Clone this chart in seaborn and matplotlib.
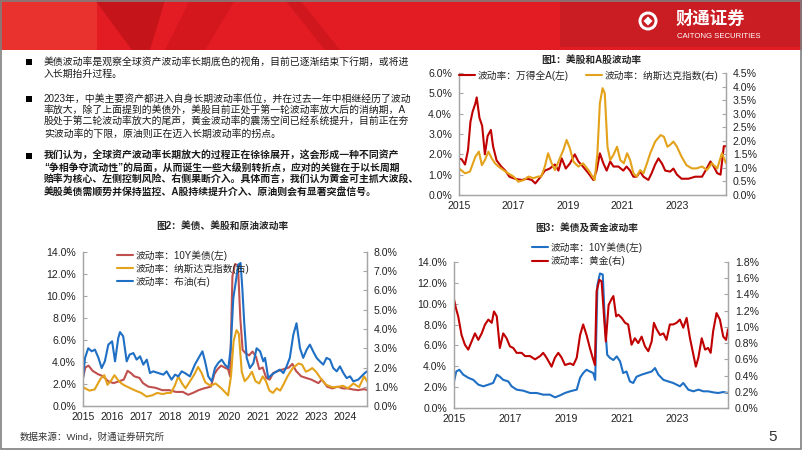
import matplotlib
matplotlib.use("Agg")
import matplotlib.pyplot as plt
import seaborn as sns
from matplotlib.ticker import FuncFormatter, MultipleLocator
from matplotlib.patches import Polygon, Rectangle, Circle
from matplotlib.lines import Line2D

# ---- data (decimal years) ----
winda_t = [2015.0, 2015.1, 2015.22, 2015.33, 2015.42, 2015.5, 2015.6, 2015.65, 2015.75, 2015.85,
           2015.95, 2016.05, 2016.17, 2016.25, 2016.38, 2016.55, 2016.7, 2016.85, 2017.05, 2017.3,
           2017.5, 2017.67, 2017.8, 2018.0, 2018.15, 2018.33, 2018.52, 2018.65, 2018.77, 2018.92,
           2019.07, 2019.25, 2019.38, 2019.55, 2019.75, 2019.93, 2020.05, 2020.17, 2020.3, 2020.42,
           2020.55, 2020.67, 2020.85, 2021.03, 2021.15, 2021.28, 2021.4, 2021.52, 2021.65, 2021.77,
           2021.95, 2022.07, 2022.2, 2022.32, 2022.45, 2022.57, 2022.75, 2022.87, 2023.0, 2023.17,
           2023.42, 2023.67, 2023.92, 2024.05, 2024.23, 2024.35, 2024.48, 2024.6, 2024.72, 2024.8]
winda_vol = [1.8, 1.75, 1.5, 2.2, 3.6, 4.1, 4.5, 4.8, 3.8, 3.4,
             2.0, 2.9, 3.2, 2.4, 1.7, 1.4, 1.2, 0.9, 0.8, 0.74,
             0.8, 0.74, 0.57, 0.9, 1.2, 1.3, 1.5, 1.2, 1.8, 1.3,
             1.55, 2.0, 1.65, 1.4, 1.07, 0.74, 1.2, 2.05, 1.55, 1.2,
             1.65, 1.4, 1.4, 1.2, 1.4, 1.2, 0.9, 0.9, 1.15, 0.9,
             0.74, 1.07, 1.5, 1.8, 1.55, 1.2, 1.15, 1.3, 1.0, 0.8,
             0.8, 0.9, 0.9, 1.2, 1.65, 1.4, 1.07, 1.0, 2.4, 2.4]

nasdaq_t = [2015.0, 2015.22, 2015.4, 2015.6, 2015.73, 2015.84, 2015.95, 2016.08, 2016.2, 2016.32,
            2016.45, 2016.63, 2016.8, 2017.0, 2017.18, 2017.37, 2017.55, 2017.73, 2017.9, 2018.02,
            2018.15, 2018.27, 2018.4, 2018.52, 2018.65, 2018.83, 2018.95, 2019.07, 2019.2, 2019.38,
            2019.55, 2019.75, 2019.98, 2020.08, 2020.17, 2020.27, 2020.35, 2020.45, 2020.55, 2020.67,
            2020.8, 2020.92, 2021.05, 2021.17, 2021.28, 2021.4, 2021.52, 2021.65, 2021.77, 2021.9,
            2022.02, 2022.2, 2022.4, 2022.52, 2022.65, 2022.75, 2022.87, 2023.0, 2023.17, 2023.35,
            2023.55, 2023.72, 2023.92, 2024.1, 2024.28, 2024.48, 2024.65, 2024.8]
nasdaq_vol = [0.98, 0.80, 0.86, 1.41, 1.60, 1.10, 1.29, 1.60, 1.35, 1.17,
              1.05, 0.92, 0.80, 0.68, 0.49, 0.55, 0.68, 0.62, 0.68, 0.68,
              1.05, 1.54, 1.17, 0.92, 1.23, 1.66, 2.03, 1.72, 1.23, 1.05,
              1.17, 0.92, 0.55, 1.54, 3.38, 3.94, 3.75, 1.78, 1.29, 1.48,
              1.78, 1.29, 1.17, 1.54, 1.29, 0.80, 0.68, 0.92, 0.80, 1.17,
              1.54, 1.97, 2.21, 2.15, 1.78, 1.85, 1.97, 1.78, 1.41, 1.10,
              0.98, 0.98, 1.05, 0.92, 1.17, 0.98, 1.54, 1.17]

ust_t = [2015.0, 2015.08, 2015.19, 2015.33, 2015.51, 2015.69, 2015.87, 2016.05, 2016.23, 2016.4,
         2016.53, 2016.64, 2016.76, 2016.94, 2017.06, 2017.24, 2017.48, 2017.72, 2017.96, 2018.19,
         2018.43, 2018.61, 2018.79, 2018.97, 2019.15, 2019.39, 2019.51, 2019.62, 2019.74, 2019.86,
         2019.98, 2020.05, 2020.13, 2020.22, 2020.32, 2020.4, 2020.48, 2020.58, 2020.7, 2020.82,
         2020.94, 2021.05, 2021.17, 2021.29, 2021.41, 2021.53, 2021.71, 2021.89, 2022.07, 2022.19,
         2022.31, 2022.49, 2022.66, 2022.84, 2023.08, 2023.2, 2023.38, 2023.56, 2023.74, 2023.92,
         2024.09, 2024.27, 2024.45, 2024.63, 2024.8]
ust_vol = [2.55, 3.5, 3.67, 3.2, 2.9, 2.7, 2.24, 2.08, 2.24, 2.4,
           3.2, 3.0, 2.7, 2.55, 2.08, 1.76, 1.66, 1.44, 1.44, 1.28,
           1.28, 1.02, 1.21, 1.44, 1.6, 1.76, 2.9, 3.35, 3.67, 3.5,
           3.35, 2.7, 11.8, 12.9, 12.8, 8.0, 5.1, 4.8, 4.6, 4.95,
           4.47, 3.35, 3.5, 2.55, 2.4, 3.0, 3.2, 3.35, 3.5, 3.83,
           3.2, 2.7, 2.55, 2.4, 2.08, 2.4, 1.76, 1.6, 1.76, 1.6,
           1.6, 1.5, 1.44, 1.53, 1.44]

brent_t = [2015.0, 2015.07, 2015.18, 2015.3, 2015.41, 2015.53, 2015.64, 2015.75, 2015.87, 2016.0,
           2016.1, 2016.21, 2016.27, 2016.38, 2016.5, 2016.6, 2016.73, 2016.84, 2016.96, 2017.07,
           2017.19, 2017.3, 2017.41, 2017.59, 2017.76, 2017.87, 2018.04, 2018.16, 2018.27, 2018.39,
           2018.5, 2018.67, 2018.84, 2019.0, 2019.1, 2019.19, 2019.3, 2019.42, 2019.53, 2019.64,
           2019.76, 2019.87, 2019.99, 2020.07, 2020.16, 2020.25, 2020.33, 2020.41, 2020.47, 2020.54,
           2020.62, 2020.73, 2020.85, 2020.96, 2021.08, 2021.19, 2021.25, 2021.36, 2021.48, 2021.65,
           2021.76, 2021.88, 2021.99, 2022.1, 2022.22, 2022.33, 2022.45, 2022.56, 2022.68, 2022.79,
           2022.9, 2023.02, 2023.13, 2023.25, 2023.36, 2023.48, 2023.59, 2023.71, 2023.82, 2023.94,
           2024.05, 2024.17, 2024.28, 2024.45, 2024.56, 2024.67, 2024.75]
brent_vol = [1.45, 2.5, 3.0, 2.84, 2.93, 2.5, 1.97, 2.32, 3.19, 3.36,
             2.32, 3.53, 3.84, 3.62, 2.32, 2.67, 2.75, 2.41, 2.58, 2.15,
             2.41, 1.71, 1.8, 1.71, 1.63, 1.8, 1.37, 1.63, 1.54, 1.8,
             1.71, 1.54, 2.15, 2.58, 2.84, 2.32, 1.54, 1.28, 1.97, 2.23,
             2.41, 2.15, 1.97, 3.0, 5.6, 6.5, 7.34, 7.43, 6.1, 4.2,
             2.5, 1.97, 2.23, 3.0, 2.84, 2.32, 2.5, 1.45, 1.63, 1.8,
             1.89, 1.71, 2.06, 2.5, 3.7, 4.3, 3.0, 2.5, 2.93, 3.19,
             2.84, 2.5, 2.32, 2.15, 2.5, 2.41, 1.97, 1.8, 2.06, 1.71,
             1.45, 1.54, 1.28, 1.37, 1.54, 1.71, 1.8]

gold_t = [2015.0, 2015.07, 2015.15, 2015.27, 2015.39, 2015.51, 2015.63, 2015.75, 2015.87, 2015.99,
          2016.11, 2016.23, 2016.35, 2016.43, 2016.53, 2016.64, 2016.76, 2016.88, 2017.0, 2017.12,
          2017.24, 2017.42, 2017.54, 2017.72, 2017.9, 2018.08, 2018.19, 2018.31, 2018.49, 2018.61,
          2018.73, 2018.85, 2018.97, 2019.15, 2019.27, 2019.39, 2019.51, 2019.62, 2019.74, 2019.86,
          2019.96, 2020.04, 2020.1, 2020.2, 2020.28, 2020.37, 2020.43, 2020.53, 2020.63, 2020.7,
          2020.8, 2020.88, 2021.0, 2021.12, 2021.23, 2021.35, 2021.47, 2021.59, 2021.71, 2021.83,
          2021.95, 2022.07, 2022.15, 2022.25, 2022.37, 2022.49, 2022.6, 2022.72, 2022.84, 2022.96,
          2023.08, 2023.2, 2023.32, 2023.44, 2023.56, 2023.65, 2023.74, 2023.86, 2023.98, 2024.09,
          2024.18, 2024.27, 2024.39, 2024.51, 2024.63, 2024.73, 2024.8]
gold_vol = [1.34, 1.23, 1.13, 0.9, 0.78, 0.72, 0.82, 0.92, 0.84, 0.92,
            1.03, 1.09, 1.05, 1.19, 1.13, 0.74, 0.92, 0.86, 0.76, 0.74,
            0.68, 0.68, 0.64, 0.64, 0.6, 0.64, 0.68, 0.62, 0.51, 0.62,
            0.68, 0.62, 0.53, 0.55, 0.53, 0.62, 0.9, 1.03, 0.9, 0.74,
            0.62, 0.53, 1.44, 1.58, 1.56, 1.11, 0.82, 1.27, 1.34, 1.38,
            1.13, 1.15, 1.11, 1.05, 1.03, 0.78, 0.86, 0.8, 0.88, 0.76,
            0.7, 0.82, 1.05, 0.97, 0.9, 0.92, 0.84, 1.03, 1.03, 1.05,
            1.09, 0.99, 1.11, 0.86, 0.66, 0.51, 0.62, 0.86, 0.72, 0.74,
            0.68, 0.95, 1.17, 1.09, 0.88, 0.84, 0.97]

bullet_1 = ["美债波动率是观察全球资产波动率长期底色的视角，目前已逐渐结束下行期，或将进",
            "入长期抬升过程。"]
bullet_2 = ["2023年，中美主要资产都进入自身长期波动率低位，并在过去一年中相继经历了波动",
            "率放大，除了上面提到的美债外，美股目前正处于第一轮波动率放大后的消纳期，A",
            "股处于第二轮波动率放大的尾声，黄金波动率的震荡空间已经系统提升，目前正在夯",
            "实波动率的下限，原油则正在迈入长期波动率的拐点。"]
bullet_3 = ["我们认为，全球资产波动率长期放大的过程正在徐徐展开，这会形成一种不同资产",
            "“争相争夺流动性”的局面，从而诞生一些大级别转折点，应对的关键在于以长周期",
            "赔率为核心、左侧控制风险、右侧果断介入。具体而言，我们认为黄金可主抓大波段、",
            "美股美债需顺势并保持监控、A股持续提升介入、原油则会有显著突盘信号。"]

RED = "#C00000"
ORANGE = "#E3A21A"
BRICK = "#C0504D"
BLUE = "#1F6FC4"
W, H = 802, 451

sns.set_theme(style="white")
plt.rcParams["font.family"] = ["Liberation Sans", "Noto Sans CJK SC"]
plt.rcParams["axes.unicode_minus"] = False

fig = plt.figure(figsize=(W / 100, H / 100), dpi=100)

# background layer in pixel coordinates
bg = fig.add_axes([0, 0, 1, 1])
bg.set_xlim(0, W)
bg.set_ylim(H, 0)
bg.axis("off")


def fx(x):
    return x / W


def fy(y):
    return 1 - y / H


# header band
bg.add_patch(Rectangle((0, 0), W, 50, color="#E31B22", lw=0))
bg.add_patch(Rectangle((0, 0), 97, 50, color="#E9322E", lw=0))
bg.add_patch(Polygon([(95, 0), (165, 0), (150, 50), (132, 50)], color="#C5141A", lw=0))
bg.add_patch(Polygon([(190, 0), (235, 0), (205, 50), (165, 50)], color="#D3171D", lw=0))
bg.add_patch(Polygon([(285, 0), (300, 0), (340, 50), (325, 50)], color="#D0171D", lw=0))
bg.add_patch(Rectangle((560, 0), W - 560, 47, color="#C91D23", lw=0))

# logo
bg.add_patch(Circle((648, 21), 9.5, color="white", lw=0))
bg.add_patch(Circle((648, 21), 6.5, color="#C91D23", lw=0))
bg.add_patch(Polygon([(648, 16.5), (652.5, 21), (648, 25.5), (643.5, 21)], color="white", lw=0))
bg.text(676, 18, "财通证券", color="white", fontsize=12.5, fontweight="bold",
        va="center", ha="left")
bg.text(677, 36, "CAITONG SECURITIES", color="white", fontsize=5.6, va="center", ha="left")

# frame
bg.add_patch(Rectangle((0.8, 0.5), W - 2.3, H - 2.2, fill=False, ec="#7F7F7F", lw=1.2))

# body text
paras = [(bullet_1, [62, 74], "normal"),
         (bullet_2, [99, 110.5, 122, 133.5], "normal"),
         (bullet_3, [156, 168, 180, 192.5], "bold")]
for lines, ys, weight in paras:
    bg.add_patch(Rectangle((26, ys[0] - 2.8), 5.6, 5.6, color="black", lw=0))
    for line, y in zip(lines, ys):
        bg.text(44, y, line, fontsize=7.1, fontweight=weight, color="#1A1A1A",
                va="center", ha="left")

# titles, source, page number
bg.text(591, 60, "图1：美股和A股波动率", fontsize=7, fontweight="bold", ha="center", va="center")
bg.text(222, 226, "图2：美债、美股和原油波动率", fontsize=7, fontweight="bold", ha="center", va="center")
bg.text(587, 229, "图3：美债及黄金波动率", fontsize=7, fontweight="bold", ha="center", va="center")
bg.text(20, 437, "数据来源：Wind，财通证券研究所", fontsize=6.8, color="#333333", va="center")
bg.text(773, 437, "5", fontsize=11, color="#333333", va="center", ha="center")

pct = FuncFormatter(lambda v, p: f"{v:.1f}%")


def style(ax, ax2, left_max, left_step, right_max, right_step, x_end, years):
    ax.set_xlim(2015, x_end)
    ax.set_ylim(0, left_max)
    ax2.set_ylim(0, right_max)
    ax.yaxis.set_major_locator(MultipleLocator(left_step))
    ax2.yaxis.set_major_locator(MultipleLocator(right_step))
    ax.yaxis.set_major_formatter(pct)
    ax2.yaxis.set_major_formatter(pct)
    ax.set_xticks(years)
    ax.set_xticklabels([str(y) for y in years])
    for a in (ax, ax2):
        a.set_xlabel("")
        a.set_ylabel("")
        a.grid(False)
        a.patch.set_alpha(0)
        a.spines["top"].set_visible(False)
        for s in ("left", "right", "bottom"):
            a.spines[s].set_color("#A6A6A6")
            a.spines[s].set_linewidth(0.9)
        a.tick_params(direction="in", length=3, width=0.8, color="#A6A6A6",
                      labelsize=7.6, labelcolor="#222222", pad=5)
    ax.tick_params(axis="x", pad=4)


# ---- figure 1 ----
ax1 = fig.add_axes([fx(459), fy(195), (726 - 459) / W, (195 - 73) / H])
ax1r = ax1.twinx()
sns.lineplot(x=winda_t, y=winda_vol, ax=ax1, color=RED, lw=1.5, legend=False)
sns.lineplot(x=nasdaq_t, y=nasdaq_vol, ax=ax1r, color=ORANGE, lw=1.5, legend=False)
style(ax1, ax1r, 6, 1, 4.5, 0.5, 2024.8, [2015, 2017, 2019, 2021, 2023])
fig.legend([Line2D([], [], color=RED, lw=1.5), Line2D([], [], color=ORANGE, lw=1.5)],
           ["波动率：万得全A(左)", "波动率：纳斯达克指数(右)"],
           loc="upper left", bbox_to_anchor=(fx(459), fy(70)), ncol=2, frameon=False,
           fontsize=7, handlelength=1.6, handletextpad=0.3, columnspacing=1.8,
           borderpad=0, borderaxespad=0)

# ---- figure 2 ----
ax2 = fig.add_axes([fx(83), fy(406), (367 - 83) / W, (406 - 252) / H])
ax2r = ax2.twinx()
sns.lineplot(x=ust_t, y=ust_vol, ax=ax2, color=BRICK, lw=1.5, legend=False)
sns.lineplot(x=nasdaq_t, y=nasdaq_vol, ax=ax2r, color=ORANGE, lw=1.5, legend=False)
sns.lineplot(x=brent_t, y=brent_vol, ax=ax2r, color=BLUE, lw=1.5, legend=False)
style(ax2, ax2r, 14, 2, 8, 1, 2024.75, list(range(2015, 2025)))
fig.legend([Line2D([], [], color=BRICK, lw=1.5), Line2D([], [], color=ORANGE, lw=1.5),
            Line2D([], [], color=BLUE, lw=1.5)],
           ["波动率：10Y美债(左)", "波动率：纳斯达克指数(右)", "波动率：布油(右)"],
           loc="upper left", bbox_to_anchor=(fx(117), fy(250)), frameon=False,
           fontsize=7, handlelength=1.6, handletextpad=0.3, labelspacing=0.3,
           borderpad=0, borderaxespad=0)

# ---- figure 3 ----
ax3 = fig.add_axes([fx(454), fy(408), (728 - 454) / W, (408 - 262) / H])
ax3r = ax3.twinx()
sns.lineplot(x=ust_t, y=ust_vol, ax=ax3, color=BLUE, lw=1.5, legend=False)
sns.lineplot(x=gold_t, y=gold_vol, ax=ax3r, color=RED, lw=1.5, legend=False)
style(ax3, ax3r, 14, 2, 1.8, 0.2, 2024.8, [2015, 2017, 2019, 2021, 2023])
fig.legend([Line2D([], [], color=BLUE, lw=1.5), Line2D([], [], color=RED, lw=1.5)],
           ["波动率：10Y美债(左)", "波动率：黄金(右)"],
           loc="upper left", bbox_to_anchor=(fx(532), fy(242)), frameon=False,
           fontsize=7, handlelength=1.6, handletextpad=0.3, labelspacing=0.35,
           borderpad=0, borderaxespad=0)

fig.savefig("out.png", dpi=100)
